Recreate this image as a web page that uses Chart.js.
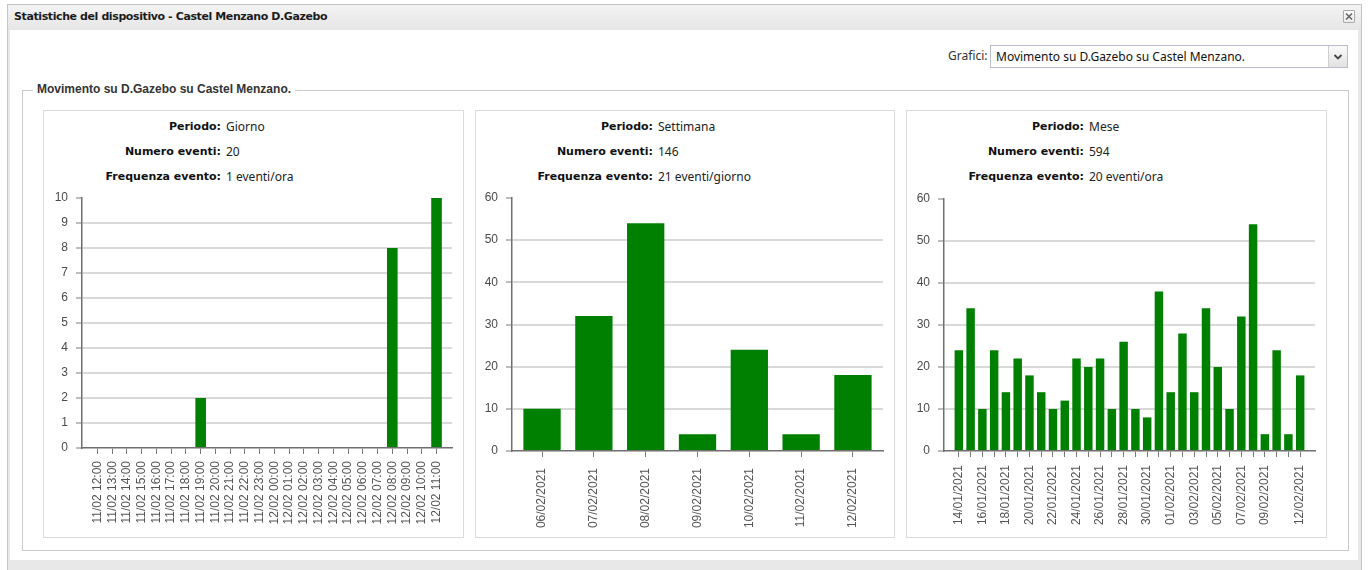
<!DOCTYPE html>
<html><head><meta charset="utf-8">
<script src="https://cdn.jsdelivr.net/npm/chart.js@4.4.1/dist/chart.umd.min.js"></script>
<style>
html,body{margin:0;padding:0;}
body{width:1368px;height:570px;overflow:hidden;position:relative;background:#fff;font-family:"Noto Sans",sans-serif;color:#222;}
.abs{position:absolute;}
#dlg{left:7px;top:4px;width:1355px;height:600px;border:1px solid #c4c4c4;background:#e8e8e8;box-sizing:border-box;}
#titlebar{left:8px;top:5px;width:1353px;height:25px;background:linear-gradient(#f3f3f3,#e6e6e6);}
#title{left:14px;top:10px;font-family:"DejaVu Sans",sans-serif;font-weight:bold;font-size:11px;line-height:14px;letter-spacing:-0.4px;color:#1c1c1c;white-space:nowrap;}
#close{left:1343px;top:10px;width:12px;height:13px;border:1px solid #a9a9a9;background:linear-gradient(#fbfbfb,#ececec);border-radius:1px;box-sizing:border-box;}
#close svg{display:block;}
#content{left:10px;top:30px;width:1348px;height:530px;background:#fff;}
#grafLbl{left:948px;top:48px;font-size:12px;line-height:16px;color:#333;}
#sel{left:990px;top:45px;width:358px;height:23px;border:1px solid #b9bccb;box-sizing:border-box;background:#fff;}
#selTxt{left:5px;top:3px;font-size:12px;line-height:16px;color:#111;white-space:nowrap;}
#selBtn{right:0;top:0;width:18px;height:21px;border-left:1px solid #cfcfcf;background:linear-gradient(#fafafa,#e2e2e2);}
#selBtn svg{display:block;}
#fs{left:22px;top:90px;width:1327px;height:461px;border:1px solid #cacaca;box-sizing:border-box;}
#legend{left:33px;top:82px;padding:0 4px;background:#fff;font-family:"Liberation Sans",Arial,sans-serif;font-weight:bold;font-size:12px;line-height:15px;color:#333;white-space:nowrap;}
.panel{top:110px;height:428px;border:1px solid #dadada;box-sizing:border-box;background:#fff;}
.hl{font-family:"DejaVu Sans",sans-serif;font-weight:bold;font-size:11px;line-height:16px;text-align:right;width:170px;white-space:nowrap;color:#111;}
.hv{font-size:12px;line-height:16px;white-space:nowrap;color:#222;}
canvas{position:absolute;}
</style>
</head><body>
<div id="dlg" class="abs"></div>
<div id="titlebar" class="abs"></div>
<div id="title" class="abs">Statistiche del dispositivo - Castel Menzano D.Gazebo</div>
<div id="close" class="abs"><svg width="10" height="11" viewBox="0 0 10 11"><path d="M2 2.5 L8 8.5 M8 2.5 L2 8.5" stroke="#666" stroke-width="1.6"/></svg></div>
<div id="content" class="abs"></div>
<div id="grafLbl" class="abs">Grafici:</div>
<div id="sel" class="abs"><div id="selTxt" class="abs">Movimento su D.Gazebo su Castel Menzano.</div>
<div id="selBtn" class="abs"><svg width="18" height="21" viewBox="0 0 18 21"><path d="M5.5 9 L9 12.5 L12.5 9" stroke="#444" stroke-width="1.8" fill="none"/></svg></div></div>
<div id="fs" class="abs"></div>
<div id="legend" class="abs">Movimento su D.Gazebo su Castel Menzano.</div>
<div id="panels"></div>
<script>
// ---------- data ----------
const dayLabels = ['11/02 12:00','11/02 13:00','11/02 14:00','11/02 15:00','11/02 16:00','11/02 17:00','11/02 18:00','11/02 19:00','11/02 20:00','11/02 21:00','11/02 22:00','11/02 23:00','12/02 00:00','12/02 01:00','12/02 02:00','12/02 03:00','12/02 04:00','12/02 05:00','12/02 06:00','12/02 07:00','12/02 08:00','12/02 09:00','12/02 10:00','12/02 11:00'];
const dayValues = [0,0,0,0,0,0,0,2,0,0,0,0,0,0,0,0,0,0,0,0,8,0,0,10];
const weekLabels = ['06/02/2021','07/02/2021','08/02/2021','09/02/2021','10/02/2021','11/02/2021','12/02/2021'];
const weekValues = [10,32,54,4,24,4,18];
const monthLabels = ['14/01/2021','15/01/2021','16/01/2021','17/01/2021','18/01/2021','19/01/2021','20/01/2021','21/01/2021','22/01/2021','23/01/2021','24/01/2021','25/01/2021','26/01/2021','27/01/2021','28/01/2021','29/01/2021','30/01/2021','31/01/2021','01/02/2021','02/02/2021','03/02/2021','04/02/2021','05/02/2021','06/02/2021','07/02/2021','08/02/2021','09/02/2021','10/02/2021','11/02/2021','12/02/2021'];
const monthValues = [24,34,10,24,14,22,18,14,10,12,22,20,22,10,26,10,8,38,14,28,14,34,20,10,32,54,4,24,4,18];
const monthShownLabels = ['14/01/2021','16/01/2021','18/01/2021','20/01/2021','22/01/2021','24/01/2021','26/01/2021','28/01/2021','30/01/2021','01/02/2021','03/02/2021','05/02/2021','07/02/2021','09/02/2021','12/02/2021'];
const dayYTicks = [0,1,2,3,4,5,6,7,8,9,10];
const weekYTicks = [0,10,20,30,40,50,60];
const monthYTicks = [0,10,20,30,40,50,60];
const headerLabels = ['Periodo:','Numero eventi:','Frequenza evento:'];
const dayHeader = ['Giorno','20','1 eventi/ora'];
const weekHeader = ['Settimana','146','21 eventi/giorno'];
const monthHeader = ['Mese','594','20 eventi/ora'];

// ---------- layout ----------
Chart.defaults.font.family = '"Liberation Sans", Arial, sans-serif';
Chart.defaults.font.size = 12;
Chart.defaults.color = '#555';

const panels = [
  {left:43, width:421, labels:dayLabels, values:dayValues, yTicks:dayYTicks, header:dayHeader, yW:38, top:198, zero:448, xPad:7, extra:0.55, shown:null},
  {left:475, width:420, labels:weekLabels, values:weekValues, yTicks:weekYTicks, header:weekHeader, yW:36, top:198, zero:451, xPad:11, extra:0.08, shown:null},
  {left:906, width:421, labels:monthLabels, values:monthValues, yTicks:monthYTicks, header:monthHeader, yW:37, top:199, zero:451, xPad:8, extra:0.76, shown:monthShownLabels}
];

const host = document.getElementById('panels');
const canvasTop = 188, canvasH = 347;

panels.forEach(p => {
  const d = document.createElement('div');
  d.className = 'abs panel';
  d.style.left = p.left + 'px'; d.style.width = p.width + 'px';
  host.appendChild(d);
  headerLabels.forEach((t, i) => {
    const l = document.createElement('div');
    l.className = 'abs hl'; l.textContent = t;
    l.style.left = (p.left + 178 - 170) + 'px'; l.style.top = (119 + i * 25) + 'px';
    host.appendChild(l);
    const v = document.createElement('div');
    v.className = 'abs hv'; v.textContent = p.header[i];
    v.style.left = (p.left + 183) + 'px'; v.style.top = (119 + i * 25) + 'px';
    host.appendChild(v);
  });
  const c = document.createElement('canvas');
  const cw = p.width - 3;
  c.width = cw; c.height = canvasH;
  c.style.left = (p.left + 1) + 'px'; c.style.top = canvasTop + 'px';
  c.style.width = cw + 'px'; c.style.height = canvasH + 'px';
  host.appendChild(c);
  const yMax = p.yTicks[p.yTicks.length - 1];
  new Chart(c, {
    type: 'bar',
    data: { labels: p.labels, datasets: [{ data: p.values, backgroundColor: '#008000', borderWidth: 0 }] },
    options: {
      responsive: false, animation: false, devicePixelRatio: 1,
      layout: { padding: { top: p.top - canvasTop, right: 10, left: 0, bottom: 0 } },
      plugins: { legend: { display: false }, tooltip: { enabled: false } },
      scales: {
        x: {
          offset: true,
          grid: { offset: false, drawOnChartArea: false, color: '#7a7a7a', tickLength: 6, lineWidth: 1 },
          border: { color: '#6f6f6f', width: 1.5 },
          ticks: {
            autoSkip: false, maxRotation: 90, minRotation: 90, padding: p.xPad, color: '#555',
            callback: function(v, i) { const lab = p.labels[i]; return (!p.shown || p.shown.includes(lab)) ? lab : ''; }
          },
          afterBuildTicks: s => { s._startValue -= p.extra; s._valueRange += 2 * p.extra; },
          afterFit: s => { s.height = canvasTop + canvasH - p.zero; }
        },
        y: {
          min: 0, max: yMax,
          afterBuildTicks: s => { s.ticks = p.yTicks.map(v => ({ value: v })); },
          grid: {
            color: ctx => (ctx.tick && (ctx.tick.value === yMax || ctx.tick.value === 0)) ? 'rgba(0,0,0,0)' : '#d9d9d9',
            lineWidth: 2, tickLength: 6, tickColor: '#7a7a7a', tickWidth: 1
          },
          border: { color: '#6f6f6f', width: 1.5 },
          ticks: { padding: 8, color: '#4a4a4a' },
          afterFit: s => { s.width = p.yW; s.paddingTop = 0; s.paddingBottom = 0; }
        }
      }
    }
  });
});
</script>
</body></html>
